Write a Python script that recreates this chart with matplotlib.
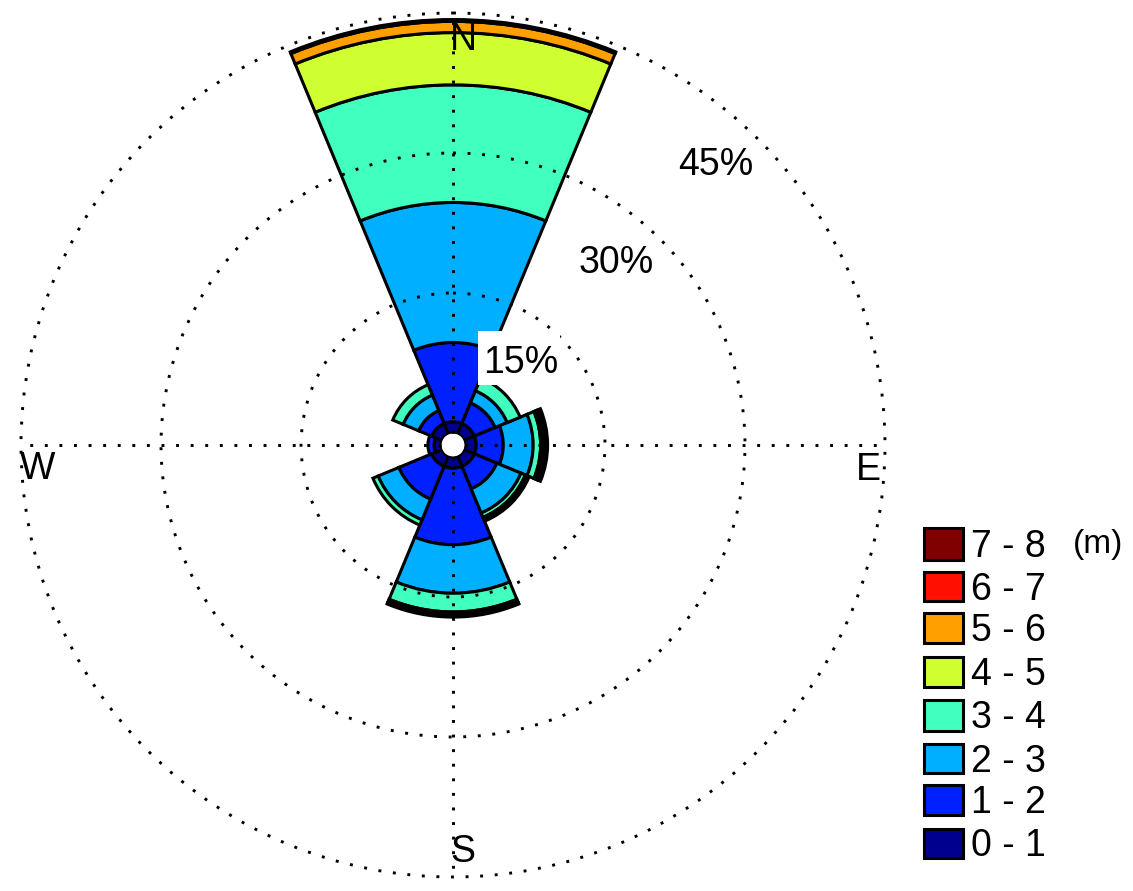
import numpy as np
import matplotlib
matplotlib.use('Agg')
import matplotlib.pyplot as plt
from matplotlib.patches import Rectangle

plt.rcParams['font.family'] = ['Liberation Sans', 'DejaVu Sans']

# wave height bins, lowest first
bins = ['0 - 1', '1 - 2', '2 - 3', '3 - 4', '4 - 5', '5 - 6', '6 - 7', '7 - 8']
colors = ['#00008f', '#0020ff', '#00afff', '#40ffbf', '#cfff30', '#ff9f00', '#ff1000', '#800000']

# compass direction in degrees, clockwise from north
directions = [0, 45, 90, 135, 180, 225, 270, 315]

# percent of occurrence per direction, one list per bin
freq_0_1 = [1.2, 1.2, 1.2, 1.2, 1.2, 1.2, 0.75, 1.2]
freq_1_2 = [8.5, 2.4, 2.9, 2.6, 8.2, 3.8, 0.65, 1.5]
freq_2_3 = [15.0, 1.4, 3.2, 2.8, 5.2, 2.4, 0, 1.8]
freq_3_4 = [12.6, 1.5, 0.8, 0.5, 2.0, 0.6, 0, 1.2]
freq_4_5 = [5.6, 0, 0.3, 0.25, 0.3, 0, 0, 0]
freq_5_6 = [1.2, 0, 0.25, 0.2, 0.15, 0, 0, 0]
freq_6_7 = [0.2, 0, 0.2, 0, 0.1, 0, 0, 0]
freq_7_8 = [0, 0, 0, 0, 0, 0, 0, 0]

rings = [15, 30, 45]
hole = 12 / (140 / 15)  # empty centre of the rose, in percent units

W, H = 1133, 891
fig = plt.figure(figsize=(W / 100, H / 100), dpi=100)

# rose centred on (453, 445), 45% ring is 432 px out
ax = fig.add_axes([(453 - 432) / W, 1 - (445 + 432) / H, 864 / W, 864 / H], projection='polar')
ax.set_theta_zero_location('N')
ax.set_theta_direction(-1)

all_freq = [freq_0_1, freq_1_2, freq_2_3, freq_3_4, freq_4_5, freq_5_6, freq_6_7, freq_7_8]
theta = np.radians(directions)
bottom = np.zeros(len(directions))
for freq, color in zip(all_freq, colors):
    vals = np.array(freq, dtype=float)
    keep = vals > 0
    ax.bar(theta[keep], vals[keep], width=np.radians(45), bottom=bottom[keep],
           color=color, edgecolor='black', linewidth=2.2, zorder=2)
    bottom = bottom + vals

ax.set_rorigin(-hole)
ax.set_rlim(0, 45)
ax.set_rticks(rings)
ax.set_xticks(np.radians([0, 90, 180, 270]))
ax.set_xticklabels([])
ax.set_yticklabels([])
ax.spines['polar'].set_visible(False)
ax.set_axisbelow(False)
ax.grid(True, color='black', linewidth=2.1, linestyle=(0, (1, 4)))
for line in ax.get_xgridlines() + ax.get_ygridlines():
    line.set_clip_on(False)
ax.patch.set_alpha(0)

# overlay in pixel coordinates for the labels and the colour key
ov = fig.add_axes([0, 0, 1, 1], zorder=5)
ov.set_xlim(0, W)
ov.set_ylim(H, 0)
ov.axis('off')

fs = 27
ov.add_patch(Rectangle((478, 331), 82, 54, facecolor='white', edgecolor='none'))
ov.text(521, 363, '15%', fontsize=fs, ha='center', va='center')
ov.text(616, 263, '30%', fontsize=fs, ha='center', va='center', backgroundcolor='white')
ov.text(716, 165, '45%', fontsize=fs, ha='center', va='center', backgroundcolor='white')

ov.text(463, 40, 'N', fontsize=fs, ha='center', va='center')
ov.text(463, 852, 'S', fontsize=fs, ha='center', va='center')
ov.text(868, 470, 'E', fontsize=fs, ha='center', va='center')
ov.text(38, 469, 'W', fontsize=fs, ha='center', va='center')

key_top = [528, 572, 613, 657, 700, 744, 785, 829]
key_h = [32, 29, 30, 30, 31, 29, 30, 29]
for top, h, label, color in zip(key_top, key_h, bins[::-1], colors[::-1]):
    ov.add_patch(Rectangle((924, top), 39, h, facecolor=color, edgecolor='black', linewidth=2.2))
    ov.text(971, top + h / 2 + 3, label, fontsize=fs, ha='left', va='center')
ov.text(1073, 545, '(m)', fontsize=24, ha='left', va='center')

fig.savefig('out.png', dpi=100)
